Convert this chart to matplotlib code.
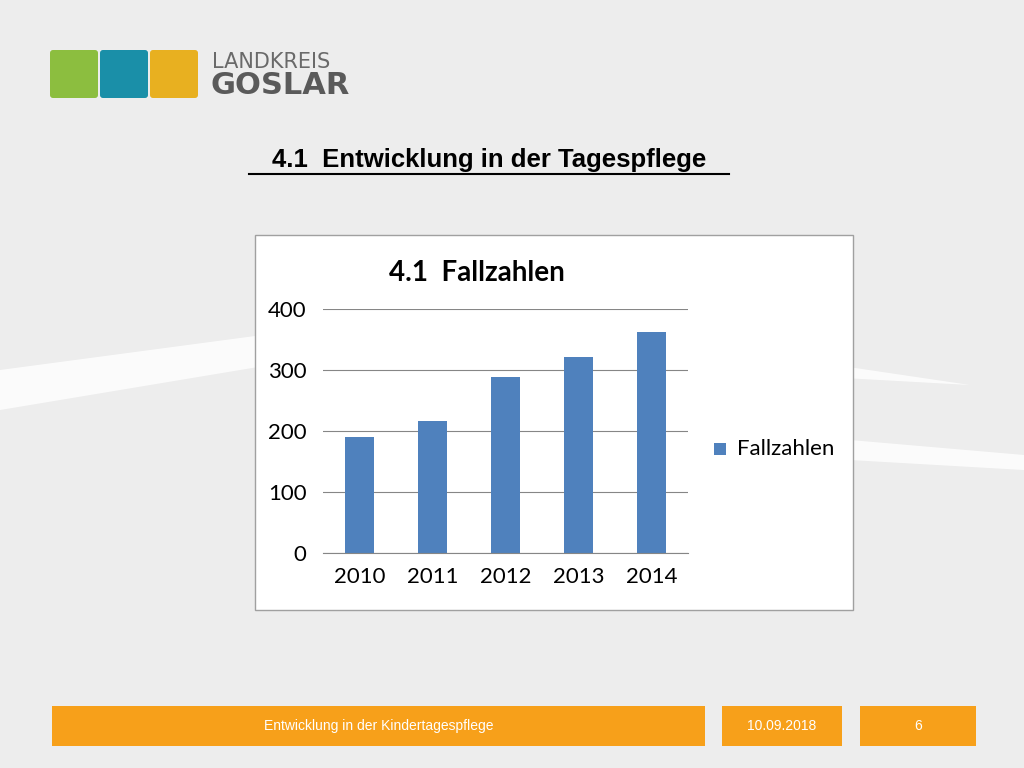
import matplotlib
matplotlib.use("Agg")
import matplotlib.pyplot as plt
from matplotlib.patches import Rectangle, FancyBboxPatch, Polygon

years = ["2010", "2011", "2012", "2013", "2014"]
fallzahlen = [190, 216, 288, 322, 363]
yticks = [0, 100, 200, 300, 400]

W, H = 1024, 768
fig = plt.figure(figsize=(10.24, 7.68), dpi=100)
fig.patch.set_facecolor("#EDEDED")

bg = fig.add_axes([0, 0, 1, 1]); bg.set_xlim(0, W); bg.set_ylim(H, 0); bg.axis("off")
bg.add_patch(Polygon([(0, 370), (300, 330), (700, 345), (970, 385), (700, 370), (300, 360), (0, 410)], closed=True, color="white", alpha=0.8, lw=0))
bg.add_patch(Polygon([(850, 440), (1024, 455), (1024, 470), (850, 460)], closed=True, color="white", alpha=0.8, lw=0))
for x0, c in [(50, "#8CBE3F"), (100, "#1A8FA8"), (150, "#E8B020")]:
    bg.add_patch(FancyBboxPatch((x0 + 3, 53), 42, 42, boxstyle="round,pad=3", color=c, lw=0))
bg.text(212, 62, "LANDKREIS", fontsize=15, color="#6A6A6A", va="center", family="DejaVu Sans")
bg.text(210, 85, "GOSLAR", fontsize=22, color="#5A5A5A", va="center", weight="bold", family="DejaVu Sans")
bg.text(489, 160, "4.1  Entwicklung in der Tagespflege", fontsize=18.5, weight="bold", ha="center", va="center", family="Liberation Sans")
bg.plot([249, 729], [174, 174], color="black", lw=1.5)
bg.add_patch(Rectangle((255, 235), 598, 375, facecolor="white", edgecolor="#A0A0A0", lw=1))
bg.text(477, 273, "4.1  Fallzahlen", fontsize=20, weight="bold", ha="center", va="center", family="Lato")
bg.add_patch(Rectangle((714, 443), 12, 12, color="#4F81BD", lw=0))
bg.text(737, 449, "Fallzahlen", fontsize=16, va="center", family="Lato")
for x0, x1, t in [(52, 705, "Entwicklung in der Kindertagespflege"), (722, 842, "10.09.2018"), (860, 976, "6")]:
    bg.add_patch(Rectangle((x0, 706), x1 - x0, 40, color="#F7A01A", lw=0))
    bg.text((x0 + x1) / 2, 726, t, fontsize=10, color="white", ha="center", va="center", family="Liberation Sans")

ax = fig.add_axes([323 / W, 1 - 553 / H, 365 / W, 244 / H])
ax.set_facecolor("white")
ax.bar(range(len(years)), fallzahlen, width=0.4, color="#4F81BD")
ax.set_xlim(-0.5, len(years) - 0.5)
ax.set_ylim(0, 400)
ax.set_yticks(yticks)
ax.set_xticks(range(len(years)))
ax.set_xticklabels(years)
ax.grid(axis="y", color="#868686", lw=0.8)
ax.set_axisbelow(True)
for s in ["top", "right", "left"]:
    ax.spines[s].set_visible(False)
ax.spines["bottom"].set_color("#868686")
ax.tick_params(axis="y", length=0, labelsize=16, pad=12)
ax.tick_params(axis="x", length=0, labelsize=16, pad=10)
for lab in ax.get_xticklabels() + ax.get_yticklabels():
    lab.set_family("Lato")
fig.savefig("out.png", dpi=100, facecolor=fig.get_facecolor())
